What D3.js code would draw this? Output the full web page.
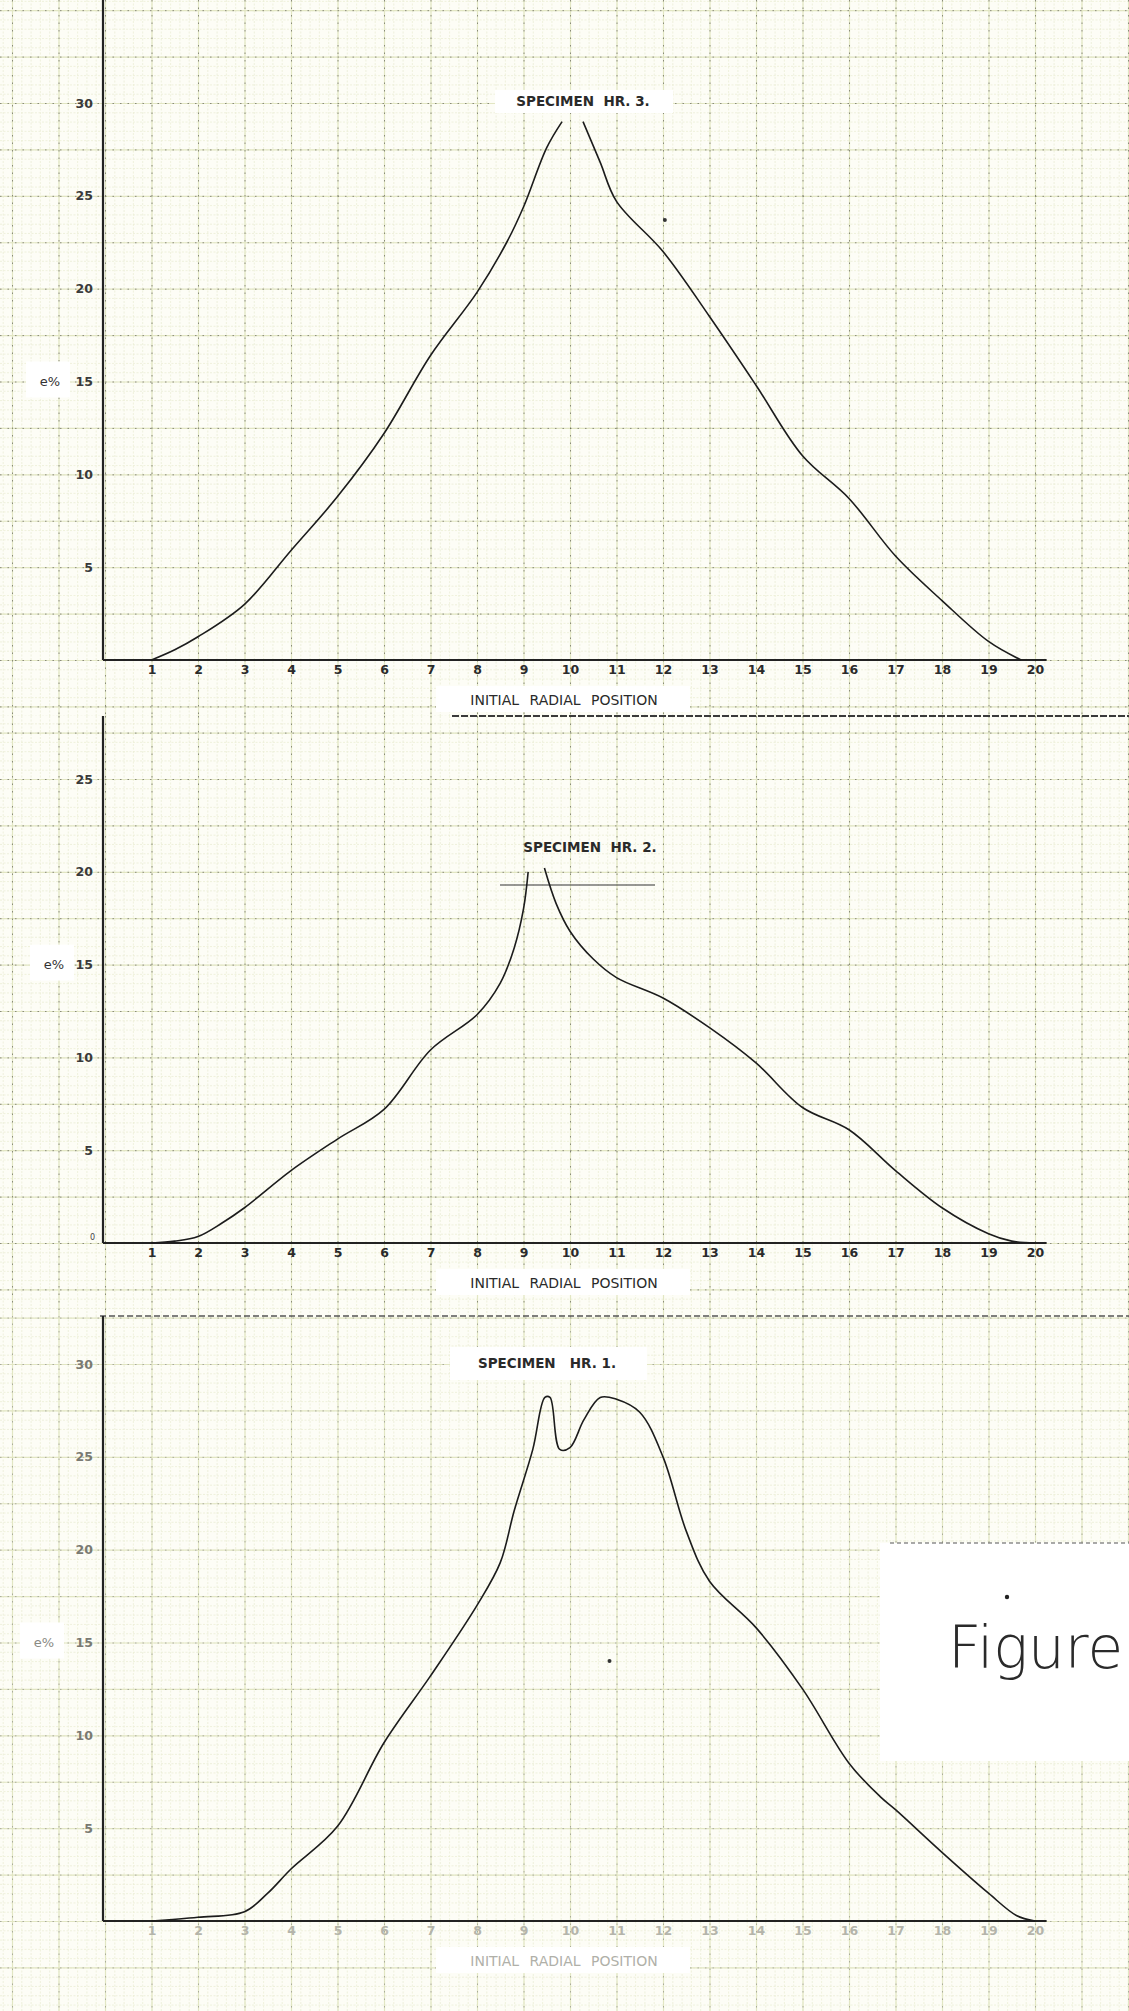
<!DOCTYPE html>
<html>
<head>
<meta charset="utf-8">
<script src="https://cdn.jsdelivr.net/npm/d3@7"></script>
<style>
body { margin: 0; background: #fdfdf6; }
svg { display: block; }
text { font-family: "DejaVu Sans", sans-serif; }
</style>
</head>
<body>
<svg id="chart" width="1129" height="2011"></svg>
<script>
// tick labels
var xTicks = d3.range(1, 21);
var yTicks30 = [5, 10, 15, 20, 25, 30];
var yTicks25 = [5, 10, 15, 20, 25];

// Specimen HR.3 (top sheet) - curve broken under the title
var hr3LeftX  = [1, 1.5, 2, 3, 4, 5, 6, 7, 8, 8.64, 9, 9.5, 9.83];
var hr3LeftE  = [0, 0.55, 1.25, 3.0, 5.9, 8.8, 12.2, 16.4, 19.8, 22.5, 24.4, 27.6, 29.0];
var hr3RightX = [10.28, 10.65, 11, 12, 13, 14, 15, 16, 17, 18, 19, 19.7];
var hr3RightE = [29.0, 26.8, 24.7, 22.0, 18.5, 14.8, 11.0, 8.7, 5.6, 3.2, 1.0, 0];
var hr3Stray = [[12.04, 23.7]];

// Specimen HR.2 (middle sheet)
var hr2LeftX  = [1, 1.5, 2, 2.5, 3, 4, 5, 6, 7, 8, 8.5, 8.8, 9.0, 9.1];
var hr2LeftE  = [0, 0.1, 0.35, 1.05, 1.9, 3.9, 5.6, 7.2, 10.4, 12.3, 14.0, 15.9, 18.0, 20.0];
var hr2RightX = [9.45, 9.7, 10, 10.5, 11, 12, 13, 14, 15, 16, 17, 18, 19, 19.5, 20];
var hr2RightE = [20.2, 18.3, 16.8, 15.3, 14.3, 13.2, 11.6, 9.7, 7.3, 6.1, 3.9, 1.9, 0.5, 0.1, 0];

// Specimen HR.1 (bottom sheet)
var hr1X = [1, 2, 3, 3.5, 4, 5, 6, 7, 8, 8.5, 8.8, 9.2, 9.46, 9.57, 9.78, 10.0, 10.3, 10.65, 11.0, 11.5, 12, 12.5, 13, 14, 15, 16, 16.67, 17, 18, 19, 19.6, 20];
var hr1E = [0, 0.2, 0.5, 1.5, 2.8, 5.1, 9.6, 13.2, 17.0, 19.3, 22.1, 25.4, 28.2, 28.2, 25.4, 25.5, 27.0, 28.2, 28.1, 27.4, 25.0, 21.0, 18.3, 15.8, 12.5, 8.5, 6.7, 6.0, 3.7, 1.5, 0.3, 0];
var hr1Stray = [[10.85, 14.0]];

var W = 1129;
var svg = d3.select('#chart');
var x = d3.scaleLinear().domain([0, 20]).range([105, 1035]);

var zip = function(xs, ys) { return xs.map(function(v, i) { return [v, ys[i]]; }); };

var panels = [
  { top: 0, bottom: 716, y: d3.scaleLinear().domain([0, 30]).range([660, 103]), yTicks: yTicks30,
    title: 'SPECIMEN  HR. 3.', titleX: 583, titleY: 101, box: [495, 90, 178, 23], eX: 50,
    segs: [zip(hr3LeftX, hr3LeftE), zip(hr3RightX, hr3RightE)], stray: hr3Stray, faded: false, zero: false },
  { top: 716, bottom: 1316, y: d3.scaleLinear().domain([0, 25]).range([1243, 779]), yTicks: yTicks25,
    title: 'SPECIMEN  HR. 2.', titleX: 590, titleY: 847, box: null, eX: 54,
    segs: [zip(hr2LeftX, hr2LeftE), zip(hr2RightX, hr2RightE)], stray: [], faded: false, zero: true },
  { top: 1316, bottom: 2011, y: d3.scaleLinear().domain([0, 30]).range([1921, 1364]), yTicks: yTicks30,
    title: 'SPECIMEN   HR. 1.', titleX: 547, titleY: 1363, box: [450, 1347, 197, 33], eX: 44,
    segs: [zip(hr1X, hr1E)], stray: hr1Stray, faded: true, zero: false }
];

// graph paper, one sheet per panel, drawn with the panel scales
panels.forEach(function(p) {
  var y = p.y;
  var lo = y.invert(p.bottom), hi = y.invert(p.top);
  var minorY = d3.range(Math.ceil(lo * 2), Math.floor(hi * 2) + 1).map(function(i) { return i / 2; });
  var majorY = minorY.filter(function(v) { return Math.abs(v / 2.5 - Math.round(v / 2.5)) < 1e-6; });
  var minorX = d3.range(-12, 112).map(function(i) { return i / 5; });
  var majorX = d3.range(-2, 23);
  var h = p.bottom - p.top;

  var sheet = svg.append('g');
  sheet.append('rect').attr('x', 0).attr('y', p.top).attr('width', W).attr('height', h)
    .attr('fill', '#fdfdf6');

  var grid = function(axis, tr, cls) {
    var g = sheet.append('g').attr('class', cls).attr('transform', tr).call(axis);
    g.select('.domain').remove();
    return g;
  };
  grid(d3.axisTop(x).tickValues(minorX).tickSize(-h).tickFormat(''), 'translate(0,' + p.top + ')', 'minor');
  grid(d3.axisLeft(y).tickValues(minorY).tickSize(-W).tickFormat(''), 'translate(0,0)', 'minor');
  sheet.selectAll('.minor line').attr('stroke', '#ebeed6').attr('stroke-width', 0.8)
    .attr('stroke-dasharray', '2,1.5');
  grid(d3.axisTop(x).tickValues(majorX).tickSize(-h).tickFormat(''), 'translate(0,' + p.top + ')', 'major');
  grid(d3.axisLeft(y).tickValues(majorY).tickSize(-W).tickFormat(''), 'translate(0,0)', 'major');
  sheet.selectAll('.major line').attr('stroke', '#e2e6c3').attr('stroke-width', 1.2);
  // dark dotted print on the major lines
  grid(d3.axisTop(x).tickValues(majorX).tickSize(-h).tickFormat(''), 'translate(0,' + p.top + ')', 'dots');
  grid(d3.axisLeft(y).tickValues(majorY).tickSize(-W).tickFormat(''), 'translate(0,0)', 'dots');
  sheet.selectAll('.dots line').attr('stroke', p.faded ? '#8c8c84' : '#5a5a52')
    .attr('stroke-width', 1).attr('stroke-dasharray', '1.5,6').attr('opacity', 0.65);
});

// sheet edges
svg.append('line').attr('x1', 452).attr('x2', W).attr('y1', 716).attr('y2', 716)
  .attr('stroke', '#3a3a3a').attr('stroke-width', 1.8).attr('stroke-dasharray', '7,2');
svg.append('line').attr('x1', 100).attr('x2', W).attr('y1', 1316).attr('y2', 1316)
  .attr('stroke', '#555').attr('stroke-width', 1.3).attr('stroke-dasharray', '6,3');

// handwritten figure tag (pasted on the bottom sheet, under the curve)
svg.append('rect').attr('x', 880).attr('y', 1543).attr('width', 249).attr('height', 218).attr('fill', '#ffffff');
svg.append('line').attr('x1', 890).attr('x2', W).attr('y1', 1543).attr('y2', 1543)
  .attr('stroke', '#555').attr('stroke-width', 1.2).attr('stroke-dasharray', '4,3');
svg.append('circle').attr('cx', 1007).attr('cy', 1597).attr('r', 2.2).attr('fill', '#222');
svg.append('text').attr('x', 948).attr('y', 1668).attr('font-size', 58).attr('font-weight', 200)
  .attr('fill', '#2a2a2a').text('Figure');

var curveLine = function(y) {
  return d3.line().x(function(d) { return x(d[0]); }).y(function(d) { return y(d[1]); })
    .curve(d3.curveCatmullRom.alpha(0.5));
};

panels.forEach(function(p) {
  var y = p.y;
  var g = svg.append('g');

  // axes lines
  g.append('line').attr('x1', x(0) - 2).attr('x2', x(0) - 2).attr('y1', p.top).attr('y2', y(0))
    .attr('stroke', '#222').attr('stroke-width', 2.2);
  g.append('line').attr('x1', x(0) - 2).attr('x2', x(20.25)).attr('y1', y(0)).attr('y2', y(0))
    .attr('stroke', '#222').attr('stroke-width', 2.2);

  // tick labels
  var ya = g.append('g').attr('transform', 'translate(' + (x(0) - 2) + ',0)')
    .call(d3.axisLeft(y).tickValues(p.yTicks).tickSize(0).tickPadding(10));
  ya.select('.domain').remove();
  ya.selectAll('text').attr('font-size', 12.5).attr('font-weight', 'bold')
    .attr('fill', p.faded ? '#7a7a72' : '#3a3a3a').attr('font-family', '"DejaVu Sans", sans-serif');

  var xa = g.append('g').attr('transform', 'translate(0,' + y(0) + ')')
    .call(d3.axisBottom(x).tickValues(xTicks).tickSize(0).tickPadding(5));
  xa.select('.domain').remove();
  xa.selectAll('text').attr('font-size', 12.5).attr('font-weight', 'bold')
    .attr('fill', p.faded ? '#b4b4aa' : '#2a2a2a').attr('font-family', '"DejaVu Sans", sans-serif');

  if (p.zero) {
    g.append('text').attr('x', x(0) - 10).attr('y', y(0) - 3).attr('font-size', 8)
      .attr('text-anchor', 'end').attr('fill', '#444').text('0');
  }

  // e% label on white patch
  g.append('rect').attr('x', p.eX - 24).attr('y', y(15) - 20).attr('width', 44).attr('height', 36).attr('fill', '#ffffff');
  g.append('text').attr('x', p.eX).attr('y', y(15) + 4).attr('text-anchor', 'middle')
    .attr('font-size', 13).attr('fill', p.faded ? '#8a8a84' : '#333').text('e%');

  // x-axis caption
  var cy = y(0) + 40;
  g.append('rect').attr('x', 436).attr('y', cy - 14).attr('width', 254).attr('height', 26).attr('fill', '#ffffff');
  g.append('text').attr('x', 564).attr('y', cy + 5).attr('text-anchor', 'middle')
    .attr('font-size', 14).attr('word-spacing', 6).attr('fill', p.faded ? '#b0b0a8' : '#2a2a2a')
    .text('INITIAL RADIAL POSITION');

  // title
  if (p.box) {
    g.append('rect').attr('x', p.box[0]).attr('y', p.box[1]).attr('width', p.box[2]).attr('height', p.box[3])
      .attr('fill', '#ffffff');
  } else {
    g.append('line').attr('x1', 500).attr('x2', 655).attr('y1', p.titleY + 38).attr('y2', p.titleY + 38)
      .attr('stroke', '#333').attr('stroke-width', 1.2);
  }
  g.append('text').attr('x', p.titleX).attr('y', p.titleY + 5).attr('text-anchor', 'middle')
    .attr('font-size', 13.5).attr('font-weight', 'bold').attr('fill', '#2a2a2a')
    .style('white-space', 'pre').text(p.title);

  // curves
  p.segs.forEach(function(s) {
    g.append('path').attr('d', curveLine(y)(s)).attr('fill', 'none')
      .attr('stroke', '#1c1c1c').attr('stroke-width', 1.6);
  });
  g.selectAll('circle.stray').data(p.stray).enter().append('circle')
    .attr('cx', function(d) { return x(d[0]); }).attr('cy', function(d) { return y(d[1]); })
    .attr('r', 2).attr('fill', '#333');
});
</script>
</body>
</html>
